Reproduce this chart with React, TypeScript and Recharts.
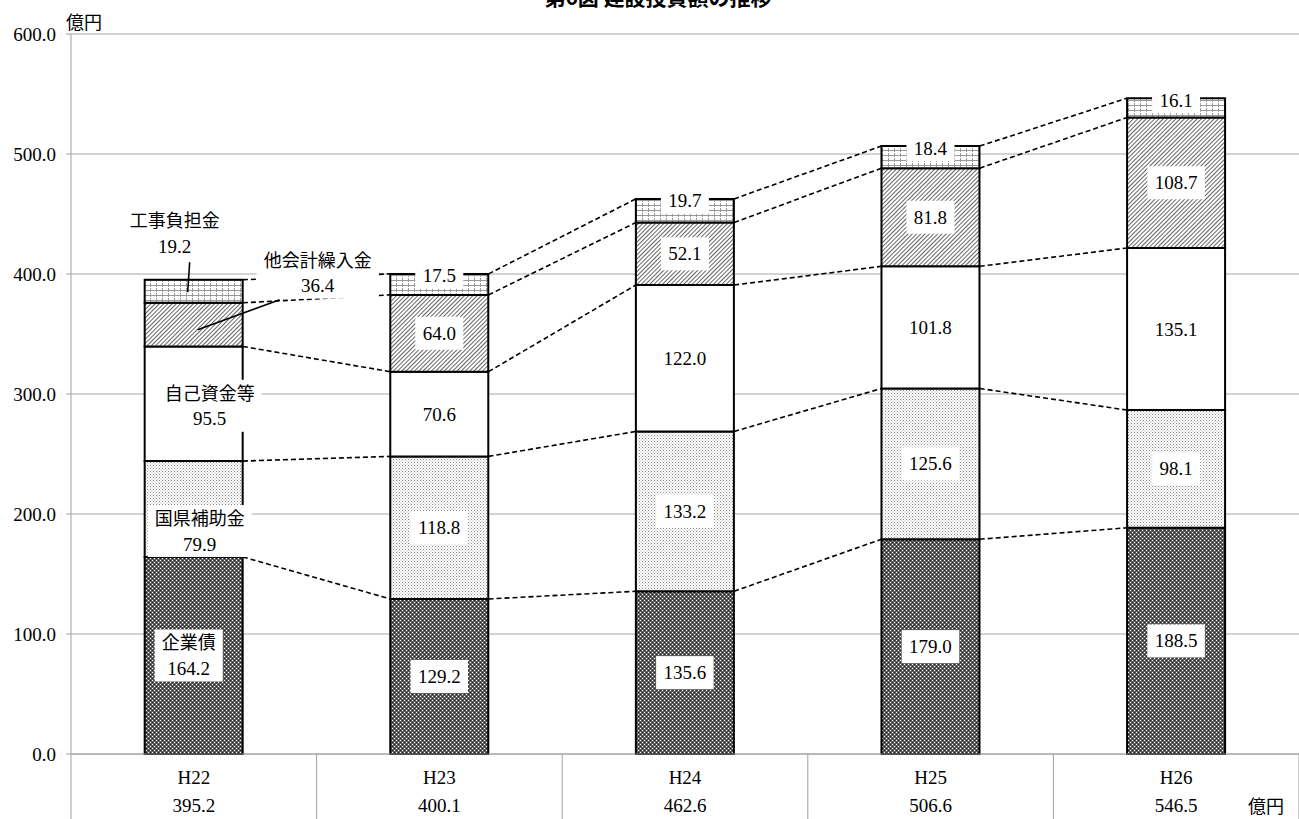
import { ComposedChart, Bar, XAxis, YAxis, CartesianGrid, ReferenceLine, LabelList } from 'recharts'

const categories = ['H22', 'H23', 'H24', 'H25', 'H26']
const totals = [395.2, 400.1, 462.6, 506.6, 546.5]

const kigyosai = [164.2, 129.2, 135.6, 179.0, 188.5]
const hojokin = [79.9, 118.8, 133.2, 125.6, 98.1]
const jikoShikin = [95.5, 70.6, 122.0, 101.8, 135.1]
const takaikei = [36.4, 64.0, 52.1, 81.8, 108.7]
const kojiFutan = [19.2, 17.5, 19.7, 18.4, 16.1]

const yTicks = [0, 100, 200, 300, 400, 500, 600]

const series = [
  { key: 'kigyosai', name: '企業債', values: kigyosai, fill: 'url(#pat-kigyo)' },
  { key: 'hojokin', name: '国県補助金', values: hojokin, fill: 'url(#pat-hojo)' },
  { key: 'jikoShikin', name: '自己資金等', values: jikoShikin, fill: '#ffffff' },
  { key: 'takaikei', name: '他会計繰入金', values: takaikei, fill: 'url(#pat-taka)' },
  { key: 'kojiFutan', name: '工事負担金', values: kojiFutan, fill: 'url(#pat-koji)' },
]

const GAP = 0.3
const HALF = (1 - 2 * GAP) / 2

const data = categories.map((cat, i) => {
  const row: Record<string, number | string> = { x: i + 0.5, cat }
  series.forEach(s => { row[s.key] = s.values[i] })
  return row
})

// cumulative tops of each series, for the dashed connectors
const levels = series.map((_, k) =>
  categories.map((__, i) => series.slice(0, k + 1).reduce((acc, s) => acc + s.values[i], 0))
)

const FONT = "'Liberation Serif', 'Noto Sans CJK JP', serif"
const NUM = 19
const JP = 18

// hand-placed labels of the first bar (offsets from segment centre)
const firstLabel = [
  { dx: -5, dy: 0, leader: null },
  { dx: 6, dy: 22, leader: null },
  { dx: 16, dy: 2, leader: null },
  { dx: 124, dy: -52, leader: [86, -25, 4, 5] },
  { dx: -19, dy: -58, leader: [-4, -29, -6, 1] },
]

function makeLabel(si: number) {
  return (props: any) => {
    const vb = props.viewBox ?? props
    const x = vb.x ?? props.x
    const y0 = vb.y ?? props.y
    const w0 = vb.width ?? props.width
    const h0 = vb.height ?? props.height
    const top = h0 < 0 ? y0 + h0 : y0
    const h = Math.abs(h0)
    const cx = x + w0 / 2
    const text = Number(series[si].values[props.index]).toFixed(1)
    if (props.index === 0) {
      const o = firstLabel[si]
      const lx = cx + o.dx
      const ly = top + h / 2 + o.dy
      const name = series[si].name
      const bw = Math.max(name.length * JP, text.length * 9.5) + 14
      const bh = 52
      return (
        <g>
          {o.leader && (
            <line x1={cx + o.leader[0]} y1={top + h / 2 + o.leader[1]} x2={cx + o.leader[2]} y2={top + h / 2 + o.leader[3]}
              stroke="#000" strokeWidth={1.6} />
          )}
          <rect x={lx - bw / 2} y={ly - bh / 2} width={bw} height={bh} fill="#fff" />
          <text x={lx} y={ly - 12} textAnchor="middle" dominantBaseline="central" fontSize={JP} fontFamily={FONT}>{name}</text>
          <text x={lx} y={ly + 13} textAnchor="middle" dominantBaseline="central" fontSize={NUM} fontFamily={FONT}>{text}</text>
        </g>
      )
    }
    const isTop = si === series.length - 1
    const cy = isTop ? top + 2 : top + h / 2
    const bw = text.length * 9.5 + 10
    const bh = isTop ? 26 : 33
    return (
      <g>
        <rect x={cx - bw / 2} y={cy - bh / 2} width={bw} height={bh} fill="#fff" />
        <text x={cx} y={cy} textAnchor="middle" dominantBaseline="central" fontSize={NUM} fontFamily={FONT}>{text}</text>
      </g>
    )
  }
}

const CategoryTick = (props: any) => {
  const { x, y, payload } = props
  const v = payload.value
  if (Number.isInteger(v)) {
    return <line x1={x} y1={y} x2={x} y2={y + 65} stroke="#a0a0a0" strokeWidth={1} />
  }
  const i = Math.floor(v)
  return (
    <g>
      <text x={x} y={y + 23} textAnchor="middle" dominantBaseline="central" fontSize={NUM} fontFamily={FONT} fill="#000">{categories[i]}</text>
      <text x={x} y={y + 51} textAnchor="middle" dominantBaseline="central" fontSize={NUM} fontFamily={FONT} fill="#000">{totals[i].toFixed(1)}</text>
    </g>
  )
}

const xTicks = [0, 0.5, 1, 1.5, 2, 2.5, 3, 3.5, 4, 4.5, 5]

export default function App() {
  return (
    <div style={{ position: 'absolute', left: 0, top: 0, width: 1299, height: 819, overflow: 'hidden', background: '#fff' }}>
      <svg width={0} height={0} style={{ position: 'absolute' }}>
        <defs>
          <pattern id="pat-kigyo" width={4} height={4} patternUnits="userSpaceOnUse">
            <rect width={4} height={4} fill="#5e5e5e" />
            <rect x={0} y={0} width={1} height={1} fill="#ffffff" />
            <rect x={2} y={2} width={1} height={1} fill="#ffffff" />
            <rect x={2} y={0} width={1} height={1} fill="#222" />
            <rect x={0} y={2} width={1} height={1} fill="#222" />
          </pattern>
          <pattern id="pat-hojo" width={3} height={3} patternUnits="userSpaceOnUse">
            <rect width={3} height={3} fill="#ffffff" />
            <rect x={0} y={0} width={1} height={1} fill="#888" />
            <rect x={1.5} y={1.5} width={1} height={1} fill="#aaa" />
          </pattern>
          <pattern id="pat-taka" width={3} height={3} patternUnits="userSpaceOnUse" patternTransform="rotate(45)">
            <rect width={3} height={3} fill="#ffffff" />
            <line x1={0} y1={0} x2={0} y2={3} stroke="#222" strokeWidth={1.4} />
          </pattern>
          <pattern id="pat-koji" width={6} height={5} patternUnits="userSpaceOnUse">
            <rect width={6} height={5} fill="#ffffff" />
            <line x1={0.5} y1={0} x2={0.5} y2={5} stroke="#999" strokeWidth={1} strokeDasharray="2 1" />
            <line x1={0} y1={0.5} x2={6} y2={0.5} stroke="#999" strokeWidth={1} />
          </pattern>
        </defs>
      </svg>

      <div style={{ position: 'absolute', top: -14, left: 0, width: 1316, textAlign: 'center', fontSize: 21, lineHeight: '21px', fontWeight: 'bold', fontFamily: "'Noto Sans CJK JP'" }}>
        第6図 建設投資額の推移
      </div>
      <div style={{ position: 'absolute', top: 11, left: 66, fontSize: 18, lineHeight: '20px', fontFamily: "'Noto Sans CJK JP'" }}>億円</div>
      <div style={{ position: 'absolute', top: 795, left: 1248, fontSize: 18, lineHeight: '20px', fontFamily: "'Noto Sans CJK JP'" }}>億円</div>

      <ComposedChart width={1299} height={819} data={data} margin={{ top: 34, right: 0, left: 0, bottom: 0 }} barCategoryGap={`${GAP * 100}%`}>
        <CartesianGrid horizontal vertical={false} stroke="#a6a6a6" />
        <XAxis
          dataKey="x"
          type="number"
          domain={[0, 5]}
          ticks={xTicks}
          interval={0}
          height={65}
          tickSize={0}
          tickMargin={0}
          tickLine={false}
          axisLine={{ stroke: '#a0a0a0' }}
          tick={<CategoryTick />}
        />
        <YAxis
          type="number"
          domain={[0, 600]}
          ticks={yTicks}
          width={71}
          tickSize={5}
          tickMargin={10}
          tickLine={{ stroke: '#a0a0a0' }}
          axisLine={{ stroke: '#a0a0a0' }}
          tickFormatter={(v: number) => v.toFixed(1)}
          tick={{ fontSize: NUM, fill: '#000', fontFamily: FONT }}
        />
        {series.map((s, si) => (
          <Bar key={s.key} dataKey={s.key} stackId="a" fill={s.fill} stroke="#000" strokeWidth={2} isAnimationActive={false}>
            <LabelList dataKey={s.key} content={makeLabel(si)} />
          </Bar>
        ))}
        {levels.map((lv, k) =>
          lv.slice(0, -1).map((v, i) => (
            <ReferenceLine
              key={`c-${k}-${i}`}
              segment={[{ x: i + 0.5 + HALF, y: v }, { x: i + 1.5 - HALF, y: lv[i + 1] }]}
              stroke="#000"
              strokeWidth={1.6}
              strokeDasharray="5 3"
            />
          ))
        )}
      </ComposedChart>
    </div>
  )
}
